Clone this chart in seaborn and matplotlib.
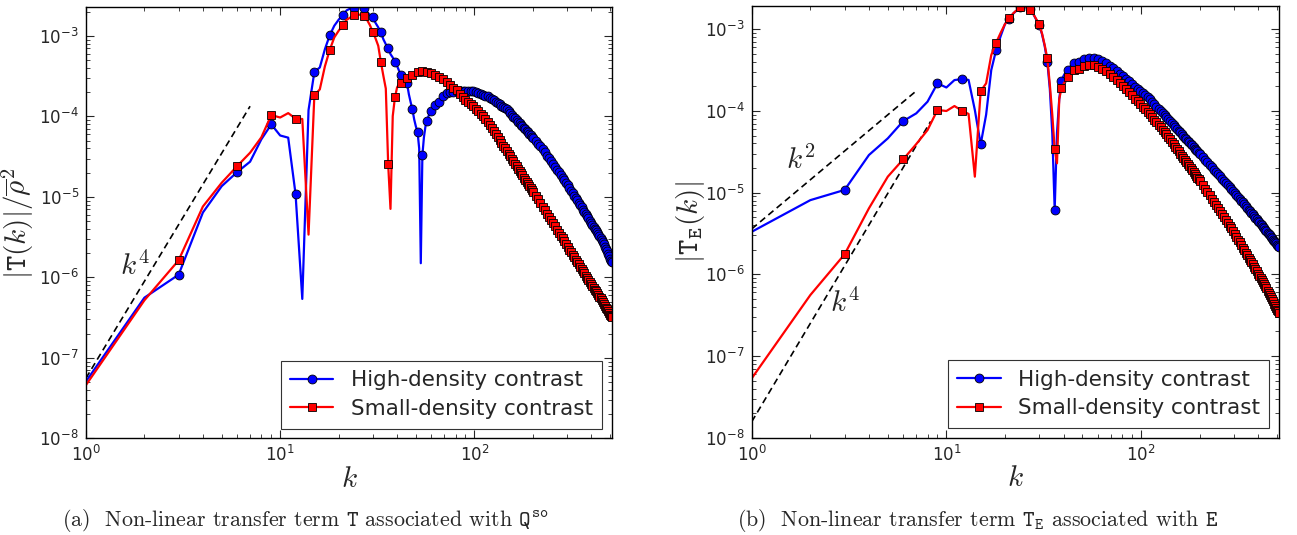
import matplotlib
matplotlib.use('Agg')
import matplotlib.pyplot as plt
from matplotlib.lines import Line2D
import pandas as pd
import seaborn as sns

# wavenumber grid: every integer up to 60, then every 3rd / 6th k in the tail
k = list(range(1, 61)) + list(range(63, 202, 3)) + list(range(207, 508, 6)) + [512]

# (a) transfer term T, high-density contrast
hi_a = [5.1e-8, 5.6e-7, 1.08e-6, 6.4e-6, 1.36e-5, 2.03e-5, 2.74e-5, 5.2e-5, 7.97e-5, 5.8e-5,
        5.45e-5, 1.09e-5, 5.4e-7, 1.2e-4, 3.57e-4, 4.06e-4, 6.85e-4, 1.02e-3, 1.34e-3, 1.59e-3,
        1.82e-3, 2.08e-3, 2.2e-3, 2.25e-3, 2.35e-3, 2.3e-3, 2.2e-3, 2.0e-3, 1.82e-3, 1.7e-3,
        1.45e-3, 1.28e-3, 1.12e-3, 9.1e-4, 7.9e-4, 7.05e-4, 5.95e-4, 5.4e-4, 4.77e-4, 4.25e-4,
        3.67e-4, 3.25e-4, 3.1e-4, 2.9e-4, 2.59e-4, 1.89e-4, 1.5e-4, 1.22e-4, 9.2e-5, 7.5e-5,
        6.4e-5, 4.0e-5, 1.5e-6, 3.3e-5, 5.5e-5, 7.5e-5, 8.7e-5, 1.0e-4, 1.1e-4, 1.17e-4,
        # k = 63 ... 201
        1.37e-4, 1.51e-4, 1.79e-4, 1.94e-4, 2.0e-4, 2.04e-4, 2.06e-4, 2.08e-4, 2.09e-4, 2.1e-4,
        2.1e-4, 2.09e-4, 2.07e-4, 2.02e-4, 1.96e-4, 1.91e-4, 1.86e-4, 1.81e-4, 1.77e-4, 1.71e-4,
        1.66e-4, 1.59e-4, 1.53e-4, 1.47e-4, 1.41e-4, 1.36e-4, 1.31e-4, 1.26e-4, 1.22e-4, 1.16e-4,
        1.10e-4, 1.05e-4, 9.95e-5, 9.5e-5, 9.06e-5, 8.65e-5, 8.26e-5, 7.9e-5, 7.57e-5, 7.24e-5,
        6.93e-5, 6.63e-5, 6.35e-5, 6.09e-5, 5.85e-5, 5.61e-5, 5.38e-5,
        # k = 207 ... 507, 512
        4.97e-5, 4.60e-5, 4.24e-5, 3.90e-5, 3.57e-5, 3.27e-5, 3.01e-5, 2.77e-5, 2.56e-5, 2.37e-5,
        2.19e-5, 2.02e-5, 1.87e-5, 1.73e-5, 1.61e-5, 1.49e-5, 1.39e-5, 1.29e-5, 1.20e-5, 1.12e-5,
        1.04e-5, 9.73e-6, 9.08e-6, 8.47e-6, 7.92e-6, 7.41e-6, 6.95e-6, 6.52e-6, 6.12e-6, 5.75e-6,
        5.41e-6, 5.09e-6, 4.8e-6, 4.53e-6, 4.28e-6, 4.05e-6, 3.83e-6, 3.62e-6, 3.43e-6, 3.25e-6,
        3.1e-6, 2.95e-6, 2.77e-6, 2.6e-6, 2.42e-6, 2.26e-6, 2.1e-6, 1.95e-6, 1.82e-6, 1.70e-6,
        1.62e-6, 1.55e-6]

# (a) transfer term T, small-density contrast
lo_a = [4.6e-8, 5.2e-7, 1.63e-6, 7.6e-6, 1.5e-5, 2.41e-5, 3.54e-5, 5.5e-5, 1.04e-4, 9.7e-5,
        1.1e-4, 9.4e-5, 9.3e-5, 3.4e-6, 1.83e-4, 2.17e-4, 4.2e-4, 6.7e-4, 9.6e-4, 1.16e-3,
        1.36e-3, 1.59e-3, 1.7e-3, 1.83e-3, 1.85e-3, 1.83e-3, 1.75e-3, 1.59e-3, 1.36e-3, 1.12e-3,
        9.3e-4, 7.55e-4, 4.76e-4, 3.2e-4, 2.22e-4, 2.54e-5, 7.1e-6, 1.01e-4, 1.72e-4, 2.29e-4,
        2.56e-4, 2.59e-4, 2.85e-4, 2.95e-4, 2.98e-4, 3.1e-4, 3.25e-4, 3.3e-4, 3.4e-4, 3.45e-4,
        3.57e-4, 3.62e-4, 3.65e-4, 3.67e-4, 3.66e-4, 3.63e-4, 3.6e-4, 3.53e-4, 3.48e-4, 3.43e-4,
        # k = 63 ... 201
        3.25e-4, 3.08e-4, 2.88e-4, 2.65e-4, 2.45e-4, 2.28e-4, 2.12e-4, 1.90e-4, 1.76e-4, 1.62e-4,
        1.51e-4, 1.42e-4, 1.33e-4, 1.25e-4, 1.17e-4, 1.08e-4, 1.0e-4, 9.3e-5, 8.6e-5, 7.85e-5,
        7.14e-5, 6.55e-5, 6.0e-5, 5.52e-5, 5.07e-5, 4.68e-5, 4.32e-5, 4.0e-5, 3.71e-5, 3.44e-5,
        3.19e-5, 2.97e-5, 2.76e-5, 2.57e-5, 2.40e-5, 2.25e-5, 2.10e-5, 1.97e-5, 1.85e-5, 1.74e-5,
        1.63e-5, 1.54e-5, 1.45e-5, 1.37e-5, 1.29e-5, 1.22e-5, 1.16e-5,
        # k = 207 ... 507, 512
        1.04e-5, 9.35e-6, 8.43e-6, 7.6e-6, 6.88e-6, 6.22e-6, 5.65e-6, 5.14e-6, 4.7e-6, 4.29e-6,
        3.93e-6, 3.6e-6, 3.31e-6, 3.05e-6, 2.81e-6, 2.59e-6, 2.4e-6, 2.22e-6, 2.06e-6, 1.92e-6,
        1.79e-6, 1.66e-6, 1.55e-6, 1.45e-6, 1.36e-6, 1.27e-6, 1.19e-6, 1.12e-6, 1.05e-6, 9.89e-7,
        9.31e-7, 8.77e-7, 8.3e-7, 7.85e-7, 7.44e-7, 7.06e-7, 6.71e-7, 6.37e-7, 6.06e-7, 5.77e-7,
        5.47e-7, 5.19e-7, 4.92e-7, 4.67e-7, 4.44e-7, 4.22e-7, 4.01e-7, 3.81e-7, 3.62e-7, 3.45e-7,
        3.34e-7, 3.24e-7]

# (b) transfer term T_E, high-density contrast
hi_b = [3.32e-6, 8.1e-6, 1.08e-5, 2.89e-5, 4.62e-5, 7.52e-5, 9.35e-5, 1.3e-4, 2.18e-4, 1.94e-4,
        2.39e-4, 2.46e-4, 2.4e-4, 1.03e-4, 3.9e-5, 9.0e-5, 3.17e-4, 5.56e-4, 8.26e-4, 1.16e-3,
        1.32e-3, 1.55e-3, 1.71e-3, 1.85e-3, 1.88e-3, 1.86e-3, 1.75e-3, 1.53e-3, 1.3e-3, 1.12e-3,
        8.7e-4, 6.2e-4, 4.0e-4, 1.85e-4, 5.3e-5, 6.12e-6, 5.4e-5, 1.4e-4, 2.35e-4, 2.7e-4,
        3.0e-4, 3.2e-4, 3.45e-4, 3.65e-4, 3.83e-4, 3.9e-4, 3.95e-4, 4.0e-4, 4.1e-4, 4.2e-4,
        4.3e-4, 4.4e-4, 4.45e-4, 4.48e-4, 4.5e-4, 4.5e-4, 4.5e-4, 4.45e-4, 4.38e-4, 4.3e-4,
        # k = 63 ... 201
        4.05e-4, 3.85e-4, 3.6e-4, 3.35e-4, 3.08e-4, 2.85e-4, 2.65e-4, 2.47e-4, 2.3e-4, 2.12e-4,
        1.98e-4, 1.86e-4, 1.75e-4, 1.65e-4, 1.56e-4, 1.47e-4, 1.39e-4, 1.30e-4, 1.21e-4, 1.13e-4,
        1.06e-4, 9.97e-5, 9.37e-5, 8.83e-5, 8.33e-5, 7.88e-5, 7.45e-5, 7.05e-5, 6.68e-5, 6.35e-5,
        6.03e-5, 5.74e-5, 5.46e-5, 5.2e-5, 4.95e-5, 4.72e-5, 4.51e-5, 4.31e-5, 4.12e-5, 3.95e-5,
        3.78e-5, 3.62e-5, 3.47e-5, 3.33e-5, 3.2e-5, 3.07e-5, 2.95e-5,
        # k = 207 ... 507, 512
        2.74e-5, 2.54e-5, 2.36e-5, 2.2e-5, 2.05e-5, 1.92e-5, 1.8e-5, 1.69e-5, 1.59e-5, 1.49e-5,
        1.4e-5, 1.32e-5, 1.25e-5, 1.18e-5, 1.11e-5, 1.05e-5, 9.95e-6, 9.42e-6, 8.92e-6, 8.45e-6,
        8.01e-6, 7.6e-6, 7.23e-6, 6.87e-6, 6.54e-6, 6.22e-6, 5.93e-6, 5.66e-6, 5.41e-6, 5.17e-6,
        4.94e-6, 4.72e-6, 4.52e-6, 4.33e-6, 4.15e-6, 3.98e-6, 3.82e-6, 3.67e-6, 3.53e-6, 3.39e-6,
        3.25e-6, 3.12e-6, 3.0e-6, 2.88e-6, 2.77e-6, 2.67e-6, 2.57e-6, 2.48e-6, 2.39e-6, 2.3e-6,
        2.22e-6, 2.14e-6]

# (b) transfer term T_E, small-density contrast
lo_b = [5.33e-8, 5.58e-7, 1.76e-6, 6.43e-6, 1.57e-5, 2.56e-5, 3.93e-5, 5.84e-5, 1.03e-4, 1.0e-4,
        1.15e-4, 1.01e-4, 9.2e-5, 1.57e-5, 1.75e-4, 2.18e-4, 4.83e-4, 6.84e-4, 9.06e-4, 1.16e-3,
        1.36e-3, 1.56e-3, 1.72e-3, 1.87e-3, 1.9e-3, 1.88e-3, 1.72e-3, 1.53e-3, 1.32e-3, 1.15e-3,
        8.9e-4, 6.4e-4, 4.4e-4, 2.1e-4, 9.0e-5, 3.42e-5, 2.29e-5, 1.4e-4, 1.89e-4, 2.15e-4,
        2.38e-4, 2.58e-4, 2.78e-4, 2.98e-4, 3.16e-4, 3.22e-4, 3.27e-4, 3.3e-4, 3.38e-4, 3.48e-4,
        3.57e-4, 3.63e-4, 3.68e-4, 3.7e-4, 3.7e-4, 3.7e-4, 3.7e-4, 3.62e-4, 3.53e-4, 3.45e-4,
        # k = 63 ... 201
        3.25e-4, 3.1e-4, 2.85e-4, 2.63e-4, 2.4e-4, 2.22e-4, 2.03e-4, 1.86e-4, 1.7e-4, 1.55e-4,
        1.42e-4, 1.31e-4, 1.21e-4, 1.13e-4, 1.05e-4, 9.78e-5, 9.1e-5, 8.44e-5, 7.83e-5, 7.29e-5,
        6.79e-5, 6.35e-5, 5.93e-5, 5.55e-5, 5.19e-5, 4.83e-5, 4.5e-5, 4.2e-5, 3.92e-5, 3.67e-5,
        3.43e-5, 3.21e-5, 3.01e-5, 2.83e-5, 2.67e-5, 2.52e-5, 2.37e-5, 2.24e-5, 2.11e-5, 1.99e-5,
        1.88e-5, 1.78e-5, 1.69e-5, 1.61e-5, 1.53e-5, 1.45e-5, 1.38e-5,
        # k = 207 ... 507, 512
        1.24e-5, 1.12e-5, 1.02e-5, 9.25e-6, 8.44e-6, 7.7e-6, 7.05e-6, 6.45e-6, 5.92e-6, 5.43e-6,
        5.0e-6, 4.61e-6, 4.27e-6, 3.95e-6, 3.66e-6, 3.39e-6, 3.12e-6, 2.88e-6, 2.67e-6, 2.47e-6,
        2.29e-6, 2.13e-6, 1.98e-6, 1.85e-6, 1.72e-6, 1.6e-6, 1.5e-6, 1.41e-6, 1.32e-6, 1.23e-6,
        1.16e-6, 1.09e-6, 1.02e-6, 9.6e-7, 9.05e-7, 8.54e-7, 8.06e-7, 7.6e-7, 7.17e-7, 6.76e-7,
        6.34e-7, 5.94e-7, 5.58e-7, 5.25e-7, 4.95e-7, 4.66e-7, 4.39e-7, 4.14e-7, 3.91e-7, 3.7e-7,
        3.54e-7, 3.39e-7]

# power-law guide lines (end points)
guide_a_k4 = ([1, 7.0], [5.6e-8, 1.34e-4])
guide_b_k2 = ([1, 7.0], [3.6e-6, 1.76e-4])
guide_b_k4 = ([1, 8.3], [1.57e-8, 7.45e-5])

labels = ['High-density contrast', 'Small-density contrast']
captions = [r'(a)  Non-linear transfer term $\mathtt{T}$ associated with $\mathtt{Q}^{\mathtt{so}}$',
            r'(b)  Non-linear transfer term $\mathtt{T}_{\mathtt{E}}$ associated with $\mathtt{E}$']

sns.set_style('ticks')
plt.rcParams.update({
    'font.family': ['DejaVu Sans'],
    'mathtext.fontset': 'dejavusans',
    'axes.unicode_minus': False,
    'axes.linewidth': 1.0,
    'axes.edgecolor': 'black',
})

fig = plt.figure(figsize=(12.97, 5.35), dpi=100)
ax_a = fig.add_axes([0.0663, 0.1807, 0.4056, 0.8056])
ax_b = fig.add_axes([0.5796, 0.1819, 0.4066, 0.8069])

mark = [kk % 3 == 0 or kk == 512 for kk in k]
line_kw = dict(lw=1.6, markeredgecolor='k', markeredgewidth=0.6, markevery=mark,
               estimator=None, sort=False, legend=False)
ms_circle, ms_square = 6.4, 5.8


def draw_panel(ax, hi, lo, ymax, ylabel, label_x):
    df = pd.DataFrame({'k': k, 'high': hi, 'small': lo})
    ax.set_xscale('log')
    ax.set_yscale('log')
    sns.lineplot(data=df, x='k', y='high', ax=ax, color='b', marker='o', markersize=ms_circle, **line_kw)
    sns.lineplot(data=df, x='k', y='small', ax=ax, color='r', marker='s', markersize=ms_square, **line_kw)
    ax.set_xlim(1, 512)
    ax.set_ylim(1e-8, ymax)
    ax.tick_params(which='both', direction='in', top=True, right=True, labelsize=12)
    ax.tick_params(which='major', length=6, width=0.8, pad=5)
    ax.tick_params(which='minor', length=3, width=0.6)
    ax.set_xlabel(r'$k$', fontsize=21, math_fontfamily='cm')
    ax.xaxis.set_label_coords(0.5, -0.062)
    ax.set_ylabel(ylabel, fontsize=21, math_fontfamily='cm')
    ax.yaxis.set_label_coords(label_x, 0.5)
    handles = [Line2D([], [], color='b', lw=1.6, marker='o', markersize=ms_circle,
                      markeredgecolor='k', markeredgewidth=0.6),
               Line2D([], [], color='r', lw=1.6, marker='s', markersize=ms_square,
                      markeredgecolor='k', markeredgewidth=0.6)]
    leg = ax.legend(handles, labels, loc='lower right', fontsize=15.5, fancybox=False,
                    framealpha=1, edgecolor='0.2', borderpad=0.45, labelspacing=0.4,
                    handlelength=2.0, handletextpad=0.8, borderaxespad=0.45)
    leg.get_frame().set_linewidth(0.8)


dash = dict(color='k', lw=1.2, ls=(0, (4, 2.5)), zorder=1)

ax_a.plot(*guide_a_k4, **dash)
draw_panel(ax_a, hi_a, lo_a, 2.27e-3, r'$|\mathtt{T}(k)|/\overline{\rho}^2$', -0.095)
ax_a.text(1.5, 1.36e-6, r'$k^4$', fontsize=21, math_fontfamily='cm', va='center', ha='left')

ax_b.plot(*guide_b_k2, **dash)
ax_b.plot(*guide_b_k4, **dash)
draw_panel(ax_b, hi_b, lo_b, 1.93e-3, r'$|\mathtt{T}_{\mathtt{E}}(k)|$', -0.085)
ax_b.text(1.5, 2.5e-5, r'$k^2$', fontsize=21, math_fontfamily='cm', va='center', ha='left')
ax_b.text(2.52, 4.46e-7, r'$k^4$', fontsize=21, math_fontfamily='cm', va='center', ha='left')

fig.text(62 / 1297, 1 - 520 / 535, captions[0], fontsize=15.8, family='cmr10',
         math_fontfamily='cm', va='center', ha='left')
fig.text(737 / 1297, 1 - 520 / 535, captions[1], fontsize=15.8, family='cmr10',
         math_fontfamily='cm', va='center', ha='left')

fig.savefig('out.png', dpi=100)
